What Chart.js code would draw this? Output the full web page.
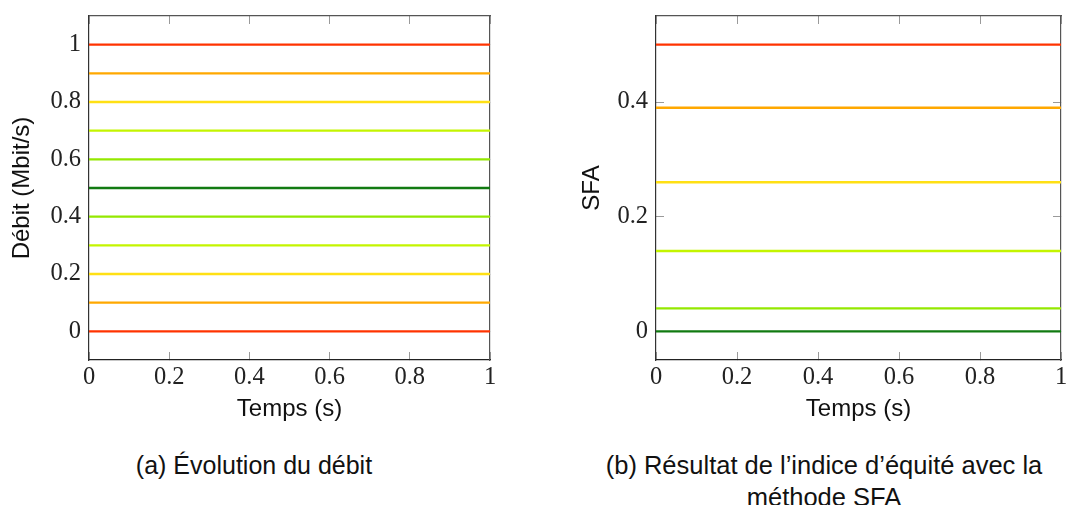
<!DOCTYPE html>
<html lang="fr">
<head>
<meta charset="utf-8">
<title>Débit et indice d'équité SFA</title>
<script src="https://cdn.jsdelivr.net/npm/chart.js@4.4.1/dist/chart.umd.min.js"></script>
<style>
  html, body { margin: 0; padding: 0; background: #fff; }
  #page { position: relative; width: 1075px; height: 505px; overflow: hidden; }
  canvas { position: absolute; top: 0; }
  #cA { left: 0; }
  #cB { left: 540px; }
  .cap {
    position: absolute; font-family: "Liberation Sans", Arial, sans-serif;
    font-size: 25px; line-height: 32px; color: #111; text-align: center; white-space: nowrap;
  }
</style>
</head>
<body>
<div id="page">
  <canvas id="cA" width="540" height="440"></canvas>
  <canvas id="cB" width="535" height="440"></canvas>
  <div class="cap" id="capA" style="left:54px; top:449px; width:400px;">(a) Évolution du débit</div>
  <div class="cap" id="capB" style="left:574px; top:449px; width:500px; font-size:25.5px;">(b) Résultat de l’indice d’équité avec la<br>méthode SFA</div>
</div>
<script>
// Shared time axis
const X_TICKS = [0, 0.2, 0.4, 0.6, 0.8, 1];
const TIME_START = 0;
const TIME_END = 1;

// (a) throughput of each flow (Mbit/s), constant over time
const DEBIT_VALUES = [1, 0.9, 0.8, 0.7, 0.6, 0.5, 0.4, 0.3, 0.2, 0.1, 0];
const DEBIT_COLORS = ['#ff3300', '#ffa800', '#ffe014', '#c4f500', '#94e800', '#117a11',
                      '#94e800', '#c4f500', '#ffe014', '#ffa800', '#ff3300'];
const DEBIT_TICKS = [0, 0.2, 0.4, 0.6, 0.8, 1];

// (b) SFA fairness index, constant over time
const SFA_VALUES = [0.5, 0.39, 0.26, 0.14, 0.04, 0];
const SFA_COLORS = ['#ff3300', '#ffa800', '#ffe014', '#c4f500', '#94e800', '#117a11'];
const SFA_TICKS = [0, 0.2, 0.4];

const SERIF = '"Liberation Serif", "Times New Roman", serif';
const SANS = '"Liberation Sans", Arial, sans-serif';

function fmt(v) {
  return String(Math.round(v * 10) / 10);
}

function setTicks(list) {
  return scale => { scale.ticks = list.map(v => ({ value: v })); };
}

function build(canvasId, values, colors, yTicks, yMin, yMax, yTitle, box) {
  const datasets = values.map((v, i) => ({
    data: [{ x: TIME_START, y: v }, { x: TIME_END, y: v }],
    borderColor: colors[i],
    borderWidth: 2.4,
    pointRadius: 0,
    fill: false,
    tension: 0
  }));

  const tickGrid = {
    display: true,
    drawOnChartArea: false,
    drawTicks: true,
    tickLength: -8,
    tickColor: '#9a9a9a',
    tickWidth: 1
  };

  // fixed axis box sizes so the plot area lands where intended
  const fixH = h => s => { s.height = h; s.paddingLeft = 0; s.paddingRight = 0; };
  const fixW = w => s => { s.width = w; s.paddingTop = 0; s.paddingBottom = 0; };

  return new Chart(document.getElementById(canvasId), {
    type: 'line',
    data: { datasets },
    options: {
      responsive: false,
      animation: false,
      devicePixelRatio: 1,
      layout: { padding: 0 },
      plugins: { legend: { display: false }, tooltip: { enabled: false } },
      scales: {
        x: {
          type: 'linear', position: 'bottom', min: TIME_START, max: TIME_END,
          afterBuildTicks: setTicks(X_TICKS),
          afterFit: fixH(box.bottom),
          grid: tickGrid,
          border: { display: true, color: '#222', width: 1.2 },
          ticks: {
            color: '#222', padding: 11, maxRotation: 0, autoSkip: false,
            font: { family: SERIF, size: 24.5 }, callback: v => fmt(v)
          },
          title: {
            display: true, text: 'Temps (s)', color: '#111',
            font: { family: SANS, size: 24 }, padding: { top: 0, bottom: 16 }
          }
        },
        x2: {
          type: 'linear', position: 'top', min: TIME_START, max: TIME_END,
          afterBuildTicks: setTicks(X_TICKS),
          afterFit: fixH(box.top),
          grid: tickGrid,
          border: { display: true, color: '#555', width: 1.2 },
          ticks: { display: false }
        },
        y: {
          type: 'linear', position: 'left', min: yMin, max: yMax,
          afterBuildTicks: setTicks(yTicks),
          afterFit: fixW(box.left),
          grid: tickGrid,
          border: { display: true, color: '#333', width: 1.2 },
          ticks: {
            color: '#222', padding: 16, autoSkip: false,
            font: { family: SERIF, size: 24.5 }, callback: v => fmt(v)
          },
          title: {
            display: true, text: yTitle, color: '#111',
            font: { family: SANS, size: 24 }, padding: { top: box.titlePad, bottom: 0 }
          }
        },
        y2: {
          type: 'linear', position: 'right', min: yMin, max: yMax,
          afterBuildTicks: setTicks(yTicks),
          afterFit: fixW(box.right),
          grid: tickGrid,
          border: { display: true, color: '#555', width: 1.2 },
          ticks: { display: false }
        }
      }
    }
  });
}

build('cA', DEBIT_VALUES, DEBIT_COLORS, DEBIT_TICKS, -0.1, 1.1, 'Débit (Mbit/s)',
      { left: 89, right: 50, top: 16, bottom: 80, titlePad: 8 });
build('cB', SFA_VALUES, SFA_COLORS, SFA_TICKS, -0.05, 0.55, 'SFA',
      { left: 116, right: 14, top: 16, bottom: 80, titlePad: 38 });
</script>
</body>
</html>
